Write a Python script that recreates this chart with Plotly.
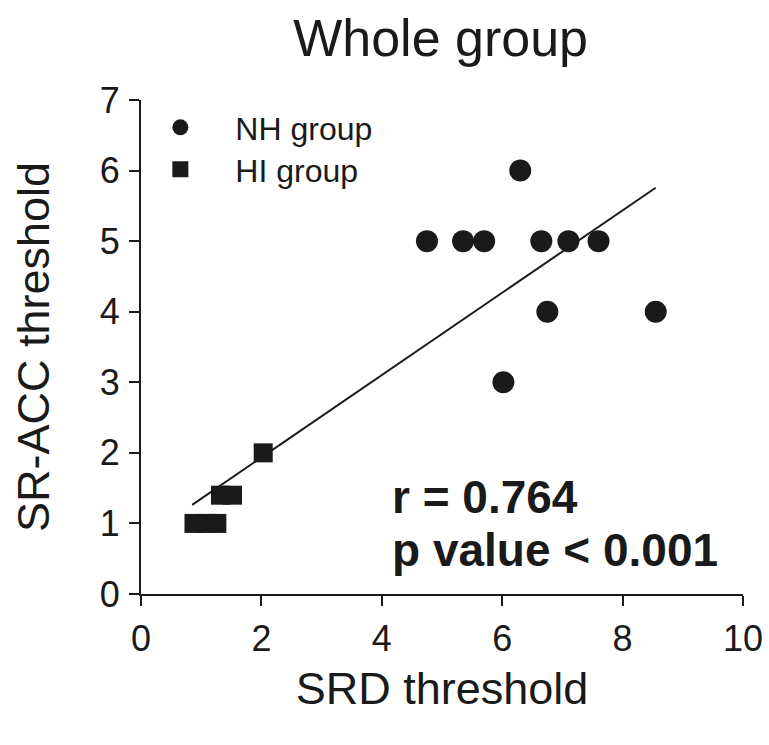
import numpy as np
import plotly.graph_objects as go

# Data
nh_x = [4.75, 5.35, 5.70, 6.65, 7.10, 7.60, 6.30, 6.75, 8.55, 6.02]
nh_y = [5, 5, 5, 5, 5, 5, 6, 4, 4, 3]
hi_x = [2.03, 1.32, 1.52, 0.88, 1.08, 1.26]
hi_y = [2.0, 1.4, 1.4, 1.0, 1.0, 1.0]
x_ticks = [0, 2, 4, 6, 8, 10]
y_ticks = [0, 1, 2, 3, 4, 5, 6, 7]

all_x = np.array(nh_x + hi_x)
all_y = np.array(nh_y + hi_y)
slope, intercept = np.polyfit(all_x, all_y, 1)
fit_x = np.array([0.85, 8.55])
fit_y = slope * fit_x + intercept

FONT = "Liberation Sans, Arial, sans-serif"
INK = "#1a1a1a"

fig = go.Figure()
fig.add_trace(go.Scatter(x=fit_x, y=fit_y, mode="lines",
                         line=dict(color=INK, width=2), showlegend=False,
                         hoverinfo="skip"))
fig.add_trace(go.Scatter(x=nh_x, y=nh_y, mode="markers", name="NH group",
                         marker=dict(symbol="circle", size=22, color=INK),
                         cliponaxis=False, legend="legend"))
fig.add_trace(go.Scatter(x=hi_x, y=hi_y, mode="markers", name="HI group",
                         marker=dict(symbol="square", size=19, color=INK),
                         cliponaxis=False, legend="legend2"))

legend_style = dict(xanchor="left", yanchor="top",
                    font=dict(size=32, family=FONT, color=INK),
                    bgcolor="rgba(0,0,0,0)", itemwidth=100)

fig.update_layout(
    width=769, height=745,
    paper_bgcolor="white", plot_bgcolor="white",
    margin=dict(l=141, r=26, t=100, b=151, autoexpand=False),
    font=dict(family=FONT, color=INK),
    title=dict(text="Whole group", x=0.573, xanchor="center", y=0.949, yanchor="middle",
               font=dict(size=52, family=FONT, color=INK)),
    showlegend=True,
    legend=dict(x=-0.026, y=1.0, **legend_style),
    legend2=dict(x=-0.026, y=0.915, **legend_style),
    xaxis=dict(range=[0, 10], tickvals=x_ticks, ticktext=[str(v) for v in x_ticks],
               showline=True, linecolor=INK, linewidth=2,
               ticks="outside", ticklen=10, tickwidth=2, tickcolor=INK,
               ticklabelstandoff=2,
               showgrid=False, zeroline=False,
               tickfont=dict(size=36, family=FONT, color=INK),
               title=dict(text="SRD threshold", standoff=14,
                          font=dict(size=45, family=FONT, color=INK))),
    yaxis=dict(range=[0, 7], tickvals=y_ticks, ticktext=[str(v) for v in y_ticks],
               showline=True, linecolor=INK, linewidth=2,
               ticks="outside", ticklen=10, tickwidth=2, tickcolor=INK,
               ticklabelstandoff=2,
               showgrid=False, zeroline=False,
               tickfont=dict(size=36, family=FONT, color=INK),
               title=dict(text="SR-ACC threshold", standoff=36,
                          font=dict(size=45, family=FONT, color=INK))),
)

fig.add_annotation(x=4.13, y=1.37, xref="x", yref="y", xanchor="left", yanchor="middle",
                   text="<b>r = 0.764</b>", showarrow=False,
                   font=dict(size=46, family=FONT, color=INK))
fig.add_annotation(x=4.13, y=0.62, xref="x", yref="y", xanchor="left", yanchor="middle",
                   text="<b>p value < 0.001</b>", showarrow=False,
                   font=dict(size=46, family=FONT, color=INK))

fig.write_html("out.html")
